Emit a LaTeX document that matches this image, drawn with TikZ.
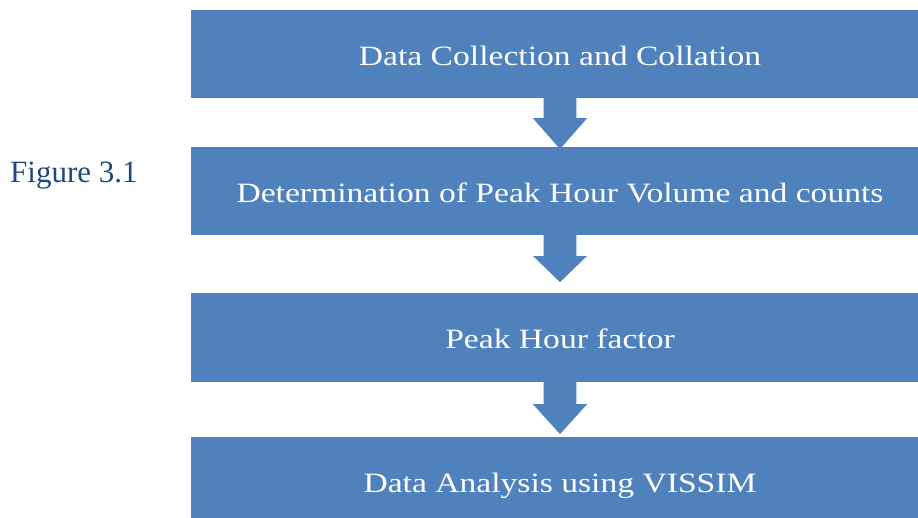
\documentclass[tikz,border=0pt]{standalone}
\usepackage{fontspec}
\setmainfont{Liberation Serif}
\newfontfamily\boxfont[FakeStretch=1.2]{Liberation Serif}
\usetikzlibrary{calc,backgrounds}
\definecolor{boxblue}{HTML}{4F81BD}
\definecolor{figblue}{HTML}{1F497D}
\tikzset{
  flowbox/.style={fill=boxblue, draw=none, minimum width=738pt, minimum height=88pt,
    inner sep=0pt, text height=22pt, text depth=0pt, text=white,
    font=\boxfont\fontsize{28}{34}\selectfont},
  blockarrow/.style={fill=boxblue, draw=white, line width=1.2pt, line join=miter}
}
\begin{document}
\begin{tikzpicture}[x=1pt,y=-1pt]
\useasboundingbox (0,0) rectangle (918,517);
\node[anchor=base west, text=figblue, font=\fontsize{31}{36}\selectfont, inner sep=0pt] (fig) at (10,182) {Figure 3.1};
\node[flowbox] (b1) at (560,54) {Data Collection and Collation};
\node[flowbox] (b2) at (560,191) {Determination of Peak Hour Volume and counts};
\node[flowbox, minimum height=89pt] (b3) at (560,337.5) {Peak Hour factor};
\node[flowbox] (b4) at (560,481) {Data Analysis using VISSIM};
\begin{pgfonlayer}{background}
\fill[white] (0,0) rectangle (918,517);
\foreach \s/\h/\t in {b1/19/52, b2/20/48, b3/21/53} {
  \filldraw[blockarrow] ($(\s.south)+(-17,-2)$) -- ++(0,\h+2) -- ++(-12,0)
     -- ($(\s.south)+(0,\t)$) -- ($(\s.south)+(29,\h)$) -- ++(-12,0) -- ++(0,-\h-2) -- cycle;
}
\end{pgfonlayer}
\end{tikzpicture}
\end{document}
